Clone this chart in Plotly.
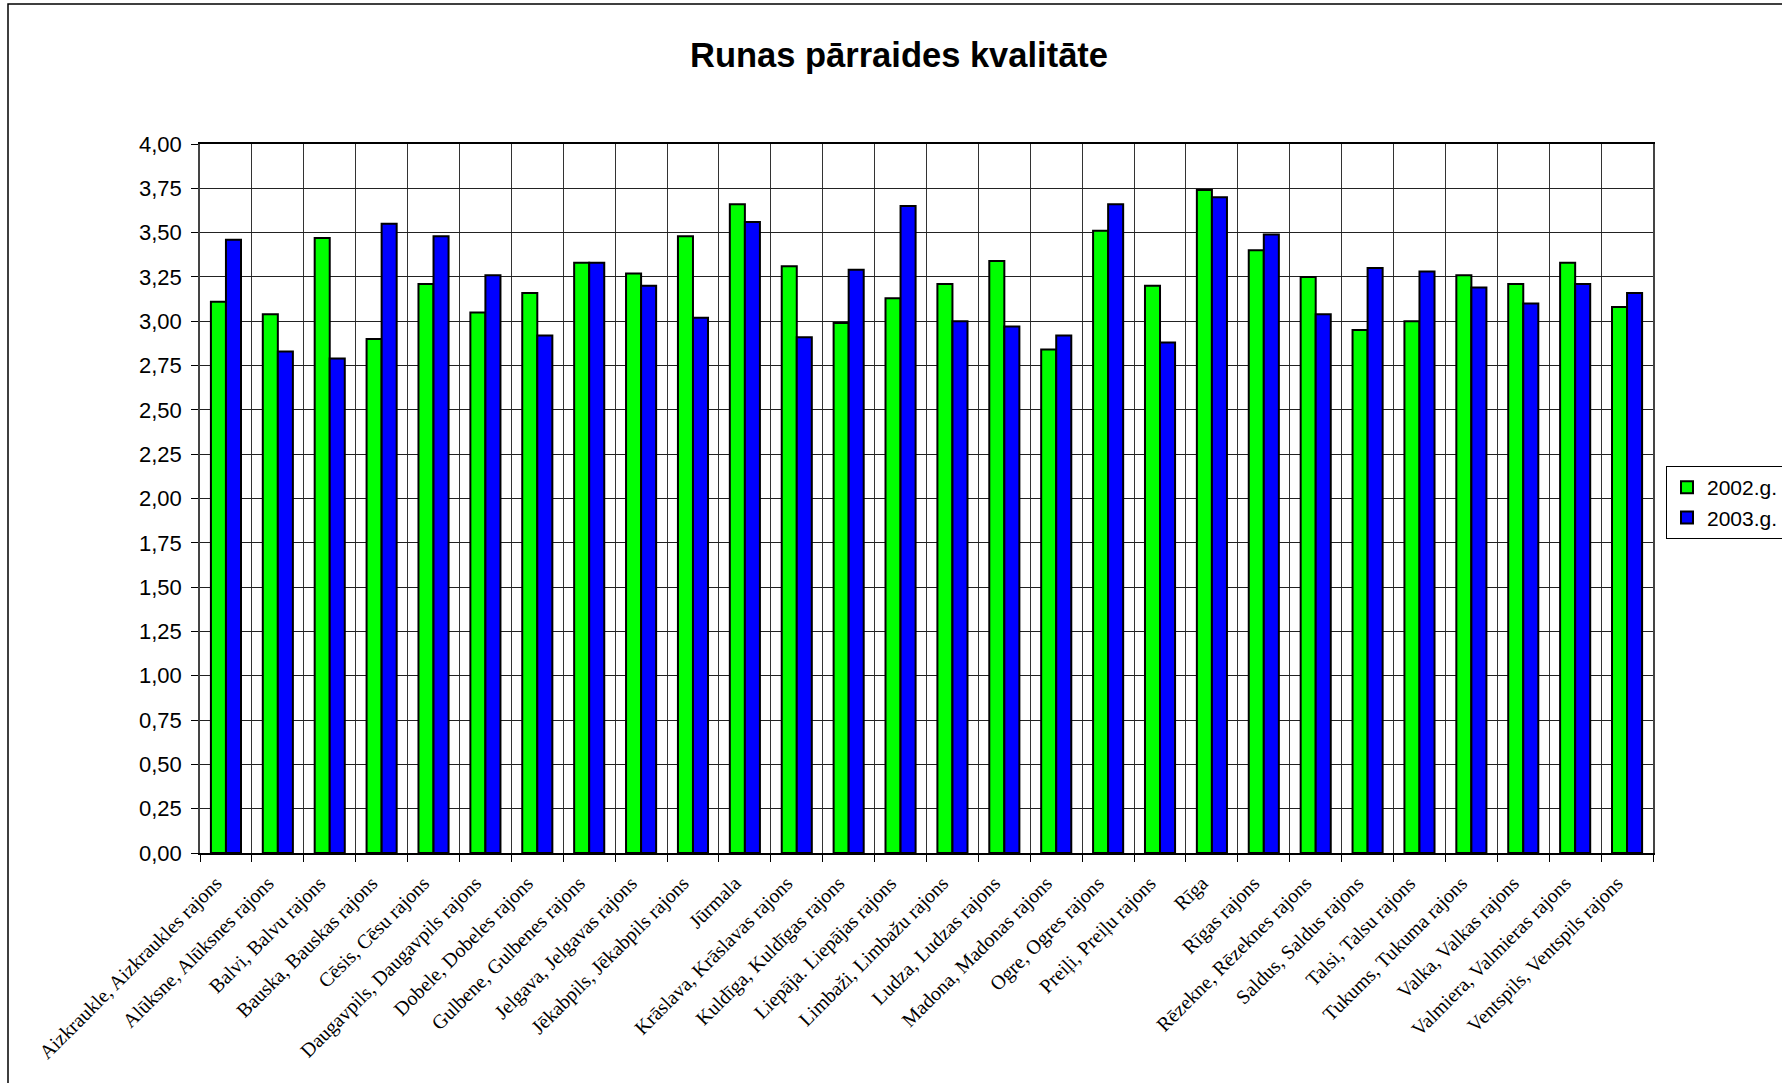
import plotly.graph_objects as go

rajoni = [
    "Aizkraukle, Aizkraukles rajons", "Alūksne, Alūksnes rajons", "Balvi, Balvu rajons",
    "Bauska, Bauskas rajons", "Cēsis, Cēsu rajons", "Daugavpils, Daugavpils rajons",
    "Dobele, Dobeles rajons", "Gulbene, Gulbenes rajons", "Jelgava, Jelgavas rajons",
    "Jēkabpils, Jēkabpils rajons", "Jūrmala", "Krāslava, Krāslavas rajons",
    "Kuldīga, Kuldīgas rajons", "Liepāja. Liepājas rajons", "Limbaži, Limbažu rajons",
    "Ludza, Ludzas rajons", "Madona, Madonas rajons", "Ogre, Ogres rajons",
    "Preiļi, Preiļu rajons", "Rīga", "Rīgas rajons", "Rēzekne, Rēzeknes rajons",
    "Saldus, Saldus rajons", "Talsi, Talsu rajons", "Tukums, Tukuma rajons",
    "Valka, Valkas rajons", "Valmiera, Valmieras rajons", "Ventspils, Ventspils rajons",
]

vert_2002 = [3.11, 3.04, 3.47, 2.90, 3.21, 3.05, 3.16, 3.33, 3.27, 3.48, 3.66, 3.31, 2.99, 3.13,
             3.21, 3.34, 2.84, 3.51, 3.20, 3.74, 3.40, 3.25, 2.95, 3.00, 3.26, 3.21, 3.33, 3.08]
vert_2003 = [3.46, 2.83, 2.79, 3.55, 3.48, 3.26, 2.92, 3.33, 3.20, 3.02, 3.56, 2.91, 3.29, 3.65,
             3.00, 2.97, 2.92, 3.66, 2.88, 3.70, 3.49, 3.04, 3.30, 3.28, 3.19, 3.10, 3.21, 3.16]

W, H = 1782, 1083
L, R, T, B = 200, 129, 144, 230
pw, ph = W - L - R, H - T - B

fig = go.Figure()
fig.add_trace(go.Bar(x=rajoni, y=vert_2002, name="2002.g.",
                     marker=dict(color="#00FF00", line=dict(color="black", width=2))))
fig.add_trace(go.Bar(x=rajoni, y=vert_2003, name="2003.g.",
                     marker=dict(color="#0000FF", line=dict(color="black", width=2))))

# outer chart frame, runs off the right and bottom edges like in the original
fig.add_shape(type="rect", xref="paper", yref="paper", layer="below",
              x0=(8 - L) / pw, x1=(W + 20 - L) / pw,
              y0=-(B + 20) / ph, y1=(H - B - 4) / ph,
              line=dict(color="black", width=1.5), fillcolor="rgba(0,0,0,0)")

fig.update_layout(
    width=W, height=H,
    margin=dict(l=L, r=R, t=T, b=B, autoexpand=False),
    paper_bgcolor="white", plot_bgcolor="white",
    separators=", ",
    barmode="group", bargap=0.42, bargroupgap=0,
    title=dict(text="<b>Runas pārraides kvalitāte</b>", x=899 / W, xref="container", xanchor="center",
               y=1 - 55 / H, yref="container", yanchor="middle",
               font=dict(family="Liberation Sans, Arial", size=34.5, color="black")),
    font=dict(family="Liberation Sans, Arial", color="black"),
    legend=dict(x=1666 / W, y=1 - 466 / H, xref="container", yref="container",
                xanchor="left", yanchor="top",
                bordercolor="black", borderwidth=1, bgcolor="white",
                font=dict(family="Liberation Sans, Arial", size=21)),
    showlegend=True,
)

fig.update_yaxes(range=[0, 4], dtick=0.25, tickformat=".2f", automargin=False,
                 showgrid=True, gridcolor="#222", gridwidth=1,
                 showline=True, linecolor="#444", linewidth=1.5, mirror=True,
                 ticks="outside", ticklen=7, tickcolor="black", ticklabelstandoff=5,
                 tickfont=dict(family="Liberation Sans, Arial", size=22), zeroline=False)
fig.update_xaxes(tickangle=-45, tickson="boundaries", automargin=False,
                 showgrid=True, gridcolor="#333", gridwidth=1,
                 showline=True, linecolor="black", linewidth=1.5, mirror=True,
                 ticks="outside", ticklen=7, tickcolor="black",
                 ticklabelstandoff=9, ticklabelshift=-10,
                 tickfont=dict(family="Liberation Serif, Times New Roman", size=20))

# page body has an 8px default margin; drop it so the figure sits at the window corner
fig.write_html("out.html", config={"displayModeBar": False},
               post_script="document.body.style.margin='0';")
